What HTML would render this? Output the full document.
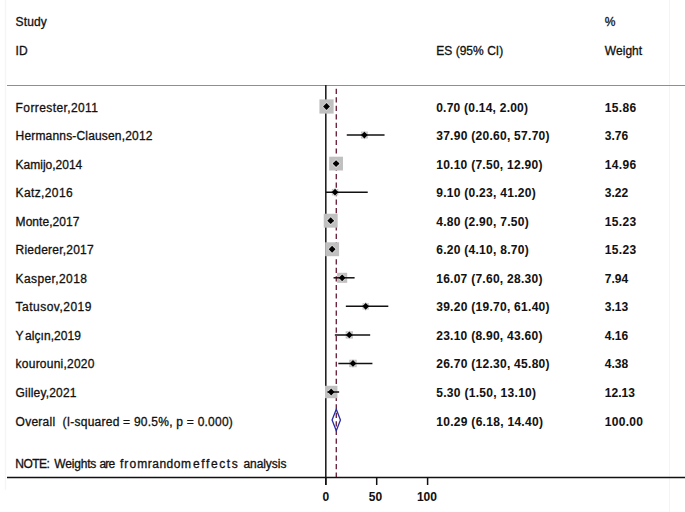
<!DOCTYPE html><html><head><meta charset="utf-8"><style>html,body{margin:0;padding:0;background:#fff;width:685px;height:512px;overflow:hidden}svg{display:block}text{font-family:"Liberation Sans",sans-serif;font-size:12px;fill:#111;stroke:#111;stroke-width:0.3px}.b{font-weight:bold;stroke-width:0.05px}.t{font-size:12px}</style></head><body>
<svg width="685" height="512" viewBox="0 0 685 512">
<line x1="5.5" y1="0" x2="5.5" y2="490" stroke="#f6f6f6" stroke-width="1.5"/>
<line x1="669.5" y1="0" x2="669.5" y2="512" stroke="#f4f4f4" stroke-width="1"/>
<text x="15.60" y="26.40" letter-spacing="0.125">Study</text>
<text x="15.60" y="55.10">ID</text>
<text x="436.20" y="55.00" letter-spacing="0.032">ES (95% CI)</text>
<text x="604.80" y="26.10">%</text>
<text x="604.80" y="55.20" letter-spacing="0.048">Weight</text>
<line x1="7" y1="85.5" x2="685" y2="85.5" stroke="#8f8f8f" stroke-width="1.2"/>
<line x1="325.8" y1="85" x2="325.8" y2="485" stroke="#222" stroke-width="1.6"/>
<line x1="336.28" y1="88.7" x2="336.28" y2="477" stroke="#641832" stroke-width="1.3" stroke-dasharray="5.2 3.33"/>
<text x="15.60" y="111.50" letter-spacing="0.397">Forrester,2011</text>
<text x="436.20" y="111.50" class="b" letter-spacing="0.235">0.70 (0.14, 2.00)</text>
<text x="604.80" y="111.50" class="b" letter-spacing="0.350">15.86</text>
<rect x="319.41" y="99.40" width="14.20" height="14.20" fill="#c0c0c0"/>
<path d="M326.51 103.10L329.91 106.50L326.51 109.90L323.11 106.50Z" fill="none" stroke="#dcdcdc" stroke-width="1.6"/>
<line x1="325.94" y1="106.50" x2="327.84" y2="106.50" stroke="#111" stroke-width="1.5"/>
<path d="M326.51 103.10L329.91 106.50L326.51 109.90L323.11 106.50Z" fill="#000"/>
<text x="15.60" y="140.05" letter-spacing="0.171">Hermanns-Clausen,2012</text>
<text x="436.20" y="140.05" class="b" letter-spacing="0.277">37.90 (20.60, 57.70)</text>
<text x="604.80" y="140.05" class="b">3.76</text>
<rect x="360.93" y="131.59" width="6.91" height="6.91" fill="#c0c0c0"/>
<path d="M364.38 131.65L367.78 135.05L364.38 138.45L360.98 135.05Z" fill="none" stroke="#dcdcdc" stroke-width="1.6"/>
<line x1="346.77" y1="135.05" x2="384.54" y2="135.05" stroke="#111" stroke-width="1.5"/>
<path d="M364.38 131.65L367.78 135.05L364.38 138.45L360.98 135.05Z" fill="#000"/>
<text x="15.60" y="168.60" letter-spacing="-0.008">Kamijo,2014</text>
<text x="436.20" y="168.60" class="b" letter-spacing="0.269">10.10 (7.50, 12.90)</text>
<text x="604.80" y="168.60" class="b" letter-spacing="0.350">14.96</text>
<rect x="329.19" y="156.70" width="13.79" height="13.79" fill="#c0c0c0"/>
<path d="M336.08 160.20L339.48 163.60L336.08 167.00L332.68 163.60Z" fill="none" stroke="#dcdcdc" stroke-width="1.6"/>
<line x1="333.44" y1="163.60" x2="338.93" y2="163.60" stroke="#111" stroke-width="1.5"/>
<path d="M336.08 160.20L339.48 163.60L336.08 167.00L332.68 163.60Z" fill="#000"/>
<text x="15.60" y="197.15" letter-spacing="0.375">Katz,2016</text>
<text x="436.20" y="197.15" class="b" letter-spacing="0.279">9.10 (0.23, 41.20)</text>
<text x="604.80" y="197.15" class="b" letter-spacing="0.027">3.22</text>
<rect x="331.86" y="188.95" width="6.40" height="6.40" fill="#c0c0c0"/>
<path d="M335.06 188.75L338.46 192.15L335.06 195.55L331.66 192.15Z" fill="none" stroke="#dcdcdc" stroke-width="1.6"/>
<line x1="326.03" y1="192.15" x2="367.74" y2="192.15" stroke="#111" stroke-width="1.5"/>
<path d="M335.06 188.75L338.46 192.15L335.06 195.55L331.66 192.15Z" fill="#000"/>
<text x="15.60" y="225.70" letter-spacing="0.047">Monte,2017</text>
<text x="436.20" y="225.70" class="b" letter-spacing="0.276">4.80 (2.90, 7.50)</text>
<text x="604.80" y="225.70" class="b" letter-spacing="0.350">15.23</text>
<rect x="323.73" y="213.74" width="13.92" height="13.92" fill="#c0c0c0"/>
<path d="M330.69 217.30L334.09 220.70L330.69 224.10L327.29 220.70Z" fill="none" stroke="#dcdcdc" stroke-width="1.6"/>
<line x1="328.75" y1="220.70" x2="333.44" y2="220.70" stroke="#111" stroke-width="1.5"/>
<path d="M330.69 217.30L334.09 220.70L330.69 224.10L327.29 220.70Z" fill="#000"/>
<text x="15.60" y="254.25" letter-spacing="0.223">Riederer,2017</text>
<text x="436.20" y="254.25" class="b" letter-spacing="0.276">6.20 (4.10, 8.70)</text>
<text x="604.80" y="254.25" class="b" letter-spacing="0.350">15.23</text>
<rect x="325.15" y="242.29" width="13.92" height="13.92" fill="#c0c0c0"/>
<path d="M332.11 245.85L335.51 249.25L332.11 252.65L328.71 249.25Z" fill="none" stroke="#dcdcdc" stroke-width="1.6"/>
<line x1="329.97" y1="249.25" x2="334.66" y2="249.25" stroke="#111" stroke-width="1.5"/>
<path d="M332.11 245.85L335.51 249.25L332.11 252.65L328.71 249.25Z" fill="#000"/>
<text x="15.60" y="282.80" letter-spacing="0.392">Kasper,2018</text>
<text x="436.20" y="282.80" class="b" letter-spacing="0.269">16.07 (7.60, 28.30)</text>
<text x="604.80" y="282.80" class="b" letter-spacing="0.027">7.94</text>
<rect x="337.14" y="272.78" width="10.05" height="10.05" fill="#c0c0c0"/>
<path d="M342.16 274.40L345.56 277.80L342.16 281.20L338.76 277.80Z" fill="none" stroke="#dcdcdc" stroke-width="1.6"/>
<line x1="333.54" y1="277.80" x2="354.61" y2="277.80" stroke="#111" stroke-width="1.5"/>
<path d="M342.16 274.40L345.56 277.80L342.16 281.20L338.76 277.80Z" fill="#000"/>
<text x="15.60" y="311.35" letter-spacing="0.485">Tatusov,2019</text>
<text x="436.20" y="311.35" class="b" letter-spacing="0.277">39.20 (19.70, 61.40)</text>
<text x="604.80" y="311.35" class="b" letter-spacing="0.027">3.13</text>
<rect x="362.55" y="303.20" width="6.31" height="6.31" fill="#c0c0c0"/>
<path d="M365.71 302.95L369.11 306.35L365.71 309.75L362.31 306.35Z" fill="none" stroke="#dcdcdc" stroke-width="1.6"/>
<line x1="345.85" y1="306.35" x2="388.31" y2="306.35" stroke="#111" stroke-width="1.5"/>
<path d="M365.71 302.95L369.11 306.35L365.71 309.75L362.31 306.35Z" fill="#000"/>
<text x="15.60" y="339.90" letter-spacing="0.066">Y<tspan dx="2.2">alçın,2019</tspan></text>
<text x="436.20" y="339.90" class="b" letter-spacing="0.269">23.10 (8.90, 43.60)</text>
<text x="604.80" y="339.90" class="b">4.16</text>
<rect x="345.68" y="331.26" width="7.27" height="7.27" fill="#c0c0c0"/>
<path d="M349.32 331.50L352.72 334.90L349.32 338.30L345.92 334.90Z" fill="none" stroke="#dcdcdc" stroke-width="1.6"/>
<line x1="334.86" y1="334.90" x2="370.18" y2="334.90" stroke="#111" stroke-width="1.5"/>
<path d="M349.32 331.50L352.72 334.90L349.32 338.30L345.92 334.90Z" fill="#000"/>
<text x="15.60" y="368.45" letter-spacing="0.228">kourouni,2020</text>
<text x="436.20" y="368.45" class="b" letter-spacing="0.277">26.70 (12.30, 45.80)</text>
<text x="604.80" y="368.45" class="b">4.38</text>
<rect x="349.25" y="359.72" width="7.46" height="7.46" fill="#c0c0c0"/>
<path d="M352.98 360.05L356.38 363.45L352.98 366.85L349.58 363.45Z" fill="none" stroke="#dcdcdc" stroke-width="1.6"/>
<line x1="338.32" y1="363.45" x2="372.42" y2="363.45" stroke="#111" stroke-width="1.5"/>
<path d="M352.98 360.05L356.38 363.45L352.98 366.85L349.58 363.45Z" fill="#000"/>
<text x="15.60" y="397.00" letter-spacing="0.174">Gilley,2021</text>
<text x="436.20" y="397.00" class="b" letter-spacing="0.304">5.30 (1.50, 13.10)</text>
<text x="604.80" y="397.00" class="b">12.13</text>
<rect x="324.99" y="385.79" width="12.42" height="12.42" fill="#c0c0c0"/>
<path d="M331.20 388.60L334.60 392.00L331.20 395.40L327.80 392.00Z" fill="none" stroke="#dcdcdc" stroke-width="1.6"/>
<line x1="327.33" y1="392.00" x2="339.14" y2="392.00" stroke="#111" stroke-width="1.5"/>
<path d="M331.20 388.60L334.60 392.00L331.20 395.40L327.80 392.00Z" fill="#000"/>
<text x="15.60" y="425.55" letter-spacing="0.241">Overall&#160; (I-squared = 90.5%, p = 0.000)</text>
<text x="436.20" y="425.55" class="b" letter-spacing="0.297">10.29 (6.18, 14.40)</text>
<text x="604.80" y="425.55" class="b" letter-spacing="0.300">100.00</text>
<path d="M332.09 420.0L336.28 409.3L340.46 420.0L336.28 430.7Z" fill="none" stroke="#2a2aa0" stroke-width="1.3"/>
<text x="15.34" y="468.00" letter-spacing="-0.540">NOTE:</text>
<text x="54.26" y="468.00" letter-spacing="-0.180">Weights</text>
<text x="99.40" y="468.00" letter-spacing="-0.720">are</text>
<text x="119.96" y="468.00" letter-spacing="1.080">from</text>
<text x="147.72" y="468.00" letter-spacing="0.504">random</text>
<text x="193.08" y="468.00" letter-spacing="1.590">effects</text>
<text x="243.40" y="468.00" letter-spacing="-0.051">analysis</text>
<line x1="7" y1="477.5" x2="685" y2="477.5" stroke="#111" stroke-width="1.5"/>
<line x1="325.80" y1="477.5" x2="325.80" y2="485" stroke="#111" stroke-width="1.5"/>
<text x="325.75" y="501.40" class="b t" text-anchor="middle">0</text>
<line x1="376.70" y1="477.5" x2="376.70" y2="485" stroke="#111" stroke-width="1.5"/>
<text x="375.40" y="501.40" class="b t" text-anchor="middle">50</text>
<line x1="427.60" y1="477.5" x2="427.60" y2="485" stroke="#111" stroke-width="1.5"/>
<text x="426.90" y="501.40" class="b t" text-anchor="middle">100</text>
</svg></body></html>
